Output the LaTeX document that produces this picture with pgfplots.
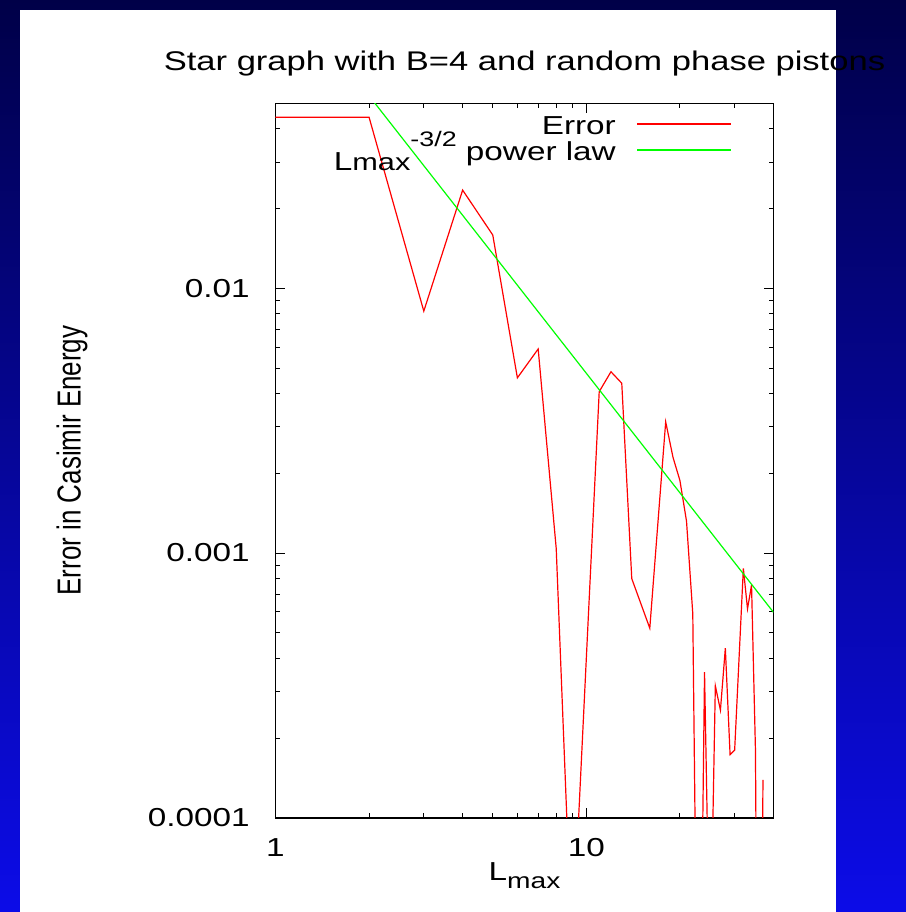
\documentclass[border=0pt]{standalone}
\usepackage{fontspec}
\setmainfont{Liberation Sans}[FakeStretch=1.28]
\newfontfamily\yfont{Liberation Sans}[FakeStretch=0.78]
\usepackage{pgfplots}
\usepackage{pgfplotstable}
\pgfplotsset{compat=1.18}
\definecolor{bgtop}{RGB}{0,0,72}
\definecolor{bgbot}{RGB}{12,12,232}
\definecolor{errred}{RGB}{255,0,0}
\definecolor{lawgreen}{RGB}{0,255,0}

\pgfplotstableread{
L err
1 0.0443
2 0.0443
3 0.0082
4 0.0235
5 0.0159
6 0.00459
7 0.0059
8 0.00104
9 3.1e-5
11 0.00407
12 0.00484
13 0.00438
14 0.00080
16 0.00052
18 0.00313
19 0.00230
20 0.00188
21 0.00132
22 0.00059
23 5e-6
24 0.000355
25 2.5e-5
26 0.000315
27 0.000255
28 0.000437
29 0.000173
30 0.00018
32 0.000875
33 0.000615
34 0.000757
35 0.00018
36 1e-6
37 0.000139
}\errtable

\pgfplotstableread{
L law
2 0.0534
40 0.000597
}\lawtable

\begin{document}
\begin{tikzpicture}
\shade[top color=bgtop, bottom color=bgbot] (0pt,0pt) rectangle (453pt,456pt);
\fill[white] (10pt,0pt) rectangle (418pt,451pt);
\begin{axis}[
  at={(137.75pt,47.15pt)}, anchor=south west,
  scale only axis, width=249pt, height=357.2pt,
  xmode=log, ymode=log,
  xmin=1, xmax=40, ymin=0.0001, ymax=0.05,
  xtick={1,10}, xticklabels={1,10},
  ytick={0.0001,0.001,0.01}, yticklabels={0.0001,0.001,0.01},
  minor xtick={2,3,4,5,6,7,8,9,20,30},
  minor ytick={0.0002,0.0003,0.0004,0.0005,0.0006,0.0007,0.0008,0.0009,0.002,0.003,0.004,0.005,0.006,0.007,0.008,0.009,0.02,0.03,0.04},
  tick align=inside,
  major tick length=5pt, minor tick length=2.5pt,
  every tick/.style={black, line width=0.5pt},
  axis line style={line width=0.8pt},
  xticklabel style={font=\fontsize{13}{15}\selectfont, anchor=base, inner sep=0pt, yshift=-19.15pt},
  yticklabel style={font=\fontsize{13}{15}\selectfont, anchor=east, inner sep=0pt, xshift=-12.75pt},
  title={Star graph with B=4 and random phase pistons},
  title style={at={(0.5,1.0298)}, anchor=base, inner sep=0pt, font=\fontsize{13.5}{16}\selectfont},
  xlabel={L\raisebox{-4pt}{\fontsize{11}{13}\selectfont max}},
  xlabel style={at={(0.5,-0.0872)}, anchor=base, yshift=0pt, inner sep=0pt, font=\fontsize{13}{15}\selectfont},
  ylabel={Error in Casimir Energy},
  ylabel style={at={(-0.4086,0.5)}, anchor=center, inner sep=0pt, font=\yfont\fontsize{16.64}{18}\selectfont},
  legend plot pos=right,
  legend cell align=right,
  legend image code/.code={\draw[#1] (0pt,0pt) -- (47pt,0pt);},
  legend style={at={(0.9167,0.9892)}, anchor=north east, draw=none, fill=none,
    inner sep=0pt, outer sep=0pt, column sep=10.5pt, row sep=0pt,
    font=\fontsize{13}{15}\selectfont,
    nodes={inner sep=0pt, text height=11.5pt, text depth=1.5pt}},
]
\addplot[errred, line width=0.6pt] table[x=L, y=err] {\errtable};
\addlegendentry{Error}
\addplot[lawgreen, line width=0.6pt] table[x=L, y=law] {\lawtable};
\addlegendentry{\raisebox{-5pt}{L\fontsize{12}{13}\selectfont max}\raisebox{6.6pt}{\fontsize{10.5}{11}\selectfont -3/2} power law}
\end{axis}
\pgfresetboundingbox
\path (0pt,0pt) rectangle (453pt,456pt);
\end{tikzpicture}
\end{document}
